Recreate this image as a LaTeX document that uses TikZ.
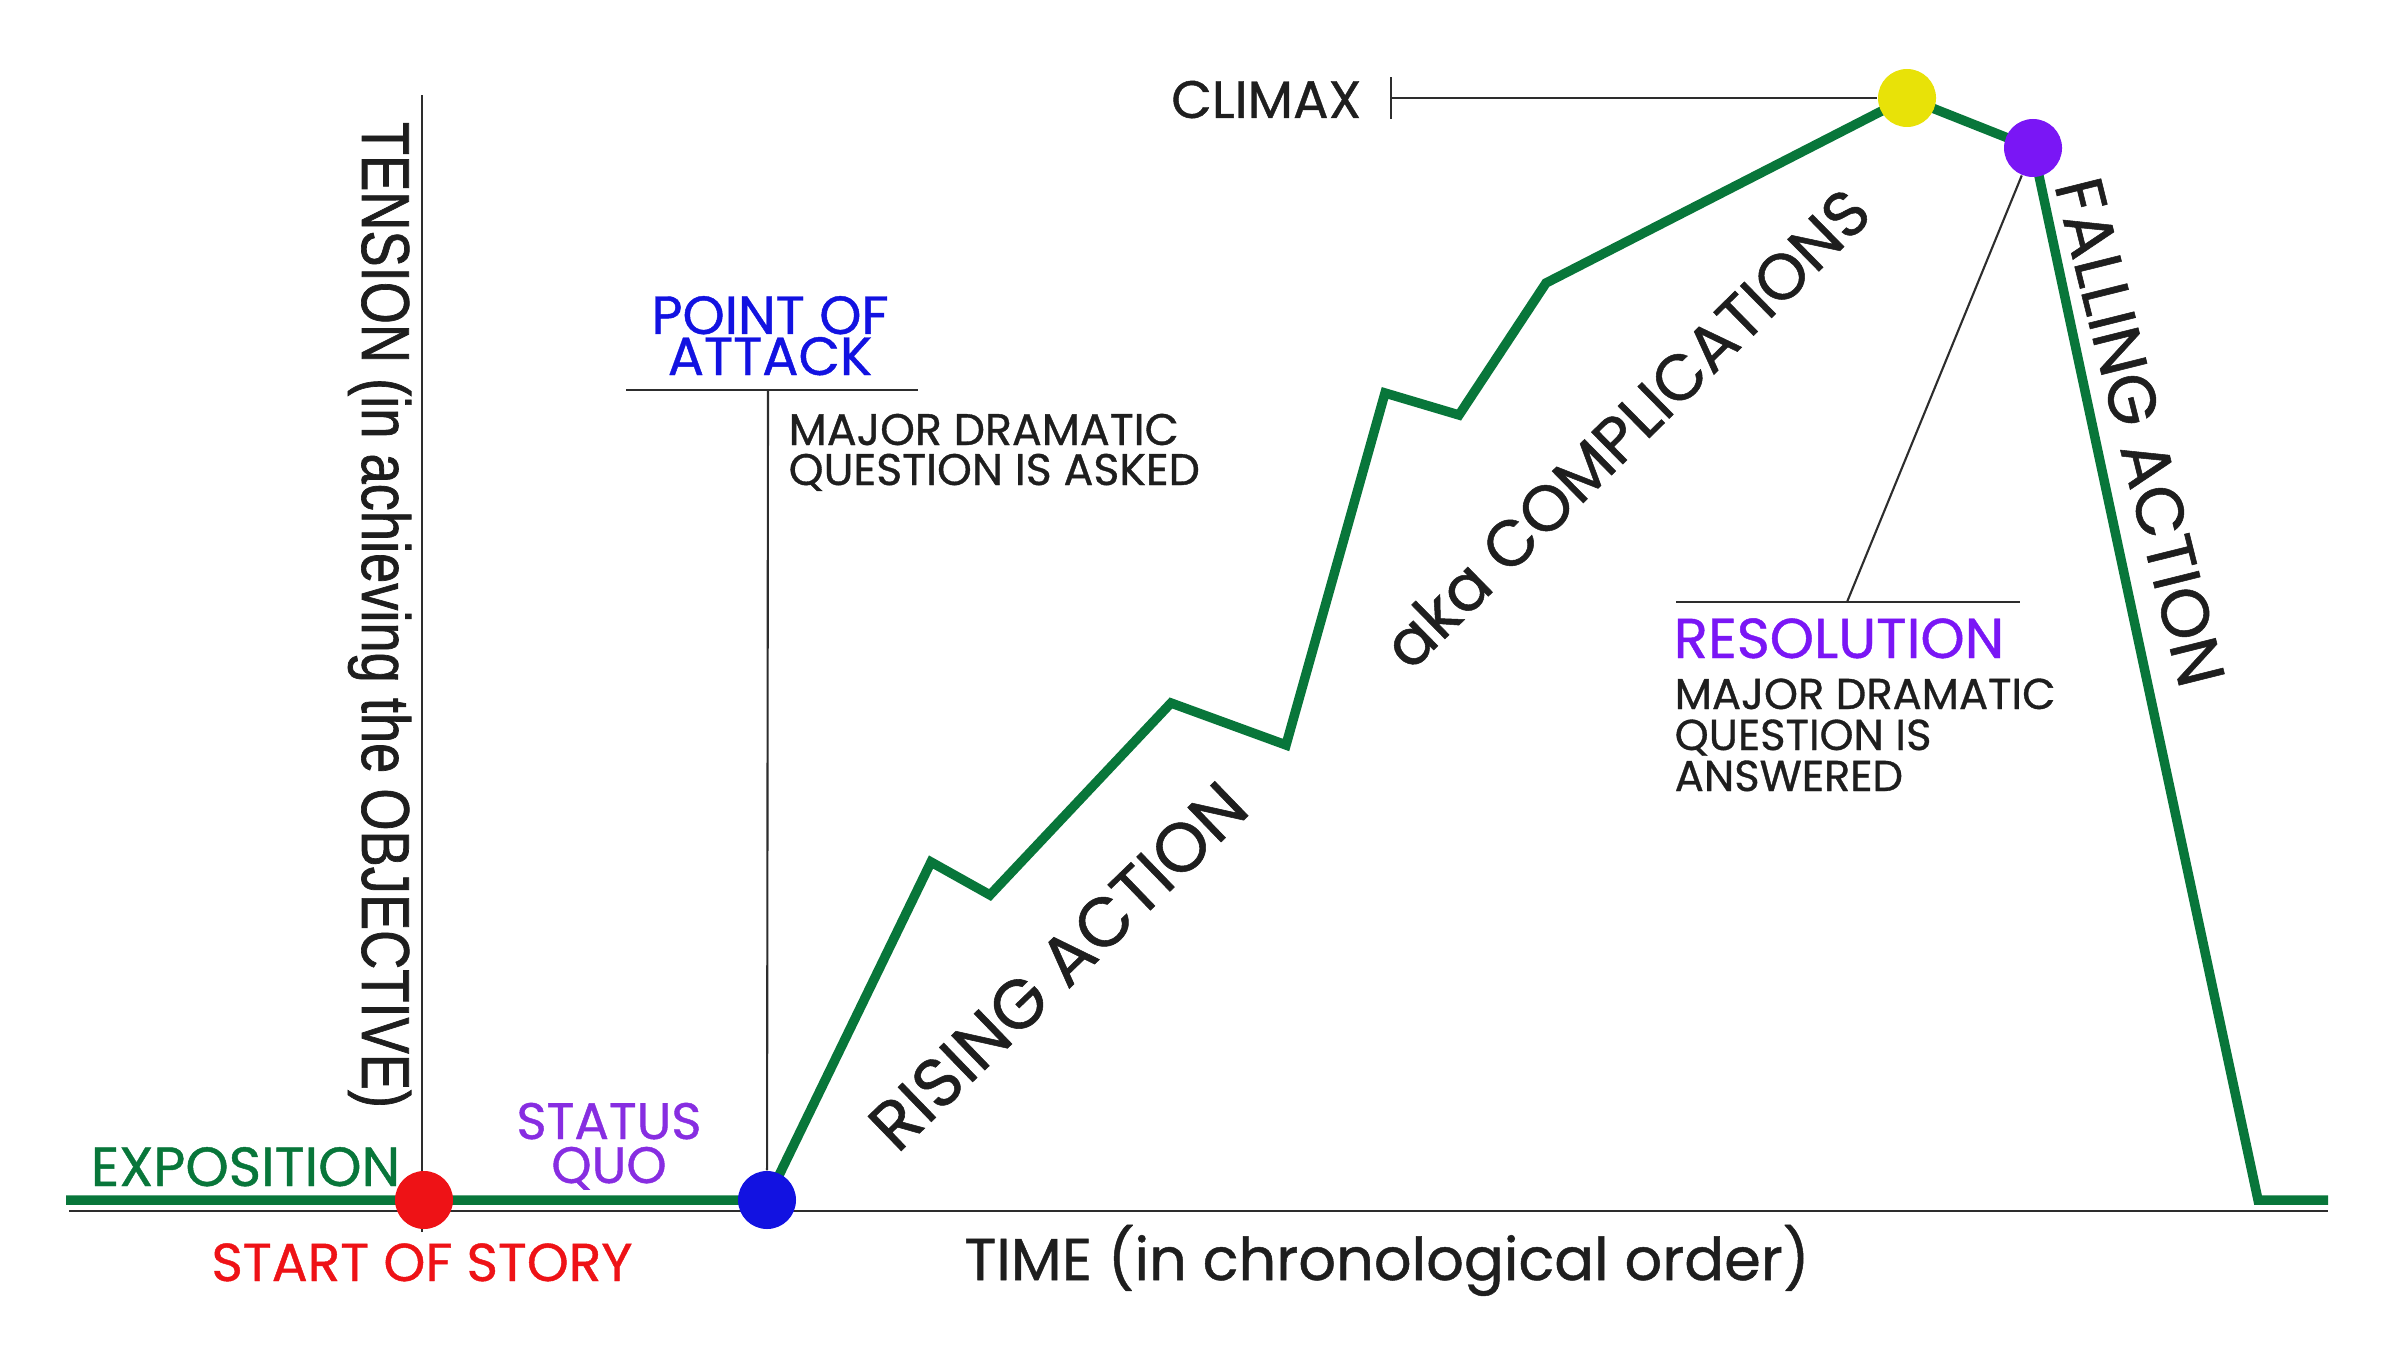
\documentclass[tikz,border=0pt]{standalone}
\usepackage{fontspec}
\setmainfont{Poppins}[FakeBold=0.8]
\newfontfamily\tensionfont[FakeStretch=0.8,FakeBold=1]{Liberation Sans}

\definecolor{storygreen}{RGB}{8,118,58}
\definecolor{axisgray}{RGB}{45,45,45}
\definecolor{textgray}{RGB}{30,30,30}
\definecolor{startred}{RGB}{238,18,22}
\definecolor{attackblue}{RGB}{18,18,225}
\definecolor{quopurple}{RGB}{135,45,225}
\definecolor{climaxyellow}{RGB}{232,226,8}
\definecolor{resolpurple}{RGB}{122,22,245}

\tikzset{
  story/.style={draw=storygreen, line width=2.7pt},
  axis/.style={draw=axisgray, line width=0.7pt},
  leader/.style={draw=axisgray, line width=0.6pt},
  dot/.style={circle, inner sep=0pt, minimum size=0.58cm},
  lbl/.style={inner sep=0pt, text=textgray},
}
\newcommand{\fsz}[1]{\fontsize{#1}{#1}\selectfont}

\begin{document}
\begin{tikzpicture}
  \useasboundingbox (0,0) rectangle (24,13.5);

  % Draw axes
  \draw[axis] (0.69,1.39) -- (23.28,1.39);
  \draw[axis] (4.22,1.18) -- (4.22,12.55);

  % Key points of the story
  \coordinate (startpt) at (4.24,1.5);
  \coordinate (attackpt) at (7.67,1.5);
  \coordinate (climaxpt) at (19.07,12.52);
  \coordinate (resolpt) at (20.33,12.02);

  % Plot the story line
  \draw[story]
  (0.66,1.5) --
  (startpt) --
  (attackpt) --
  (9.31,4.88) --
  (9.90,4.55) --
  (11.71,6.47) --
  (12.86,6.05) --
  (13.85,9.57) --
  (14.59,9.35) --
  (15.46,10.67) --
  (climaxpt) --
  (resolpt) --
  (22.58,1.5) --
  (23.28,1.5);

  % Add dots at the key points
  \node[dot, fill=startred] (start) at (startpt) {};
  \node[dot, fill=attackblue] (attack) at (attackpt) {};
  \node[dot, fill=climaxyellow] (climax) at (climaxpt) {};
  \node[dot, fill=resolpurple] (resol) at (resolpt) {};

  % Leader lines
  \coordinate (attackbar) at (7.68,9.60);
  \coordinate (climaxtick) at (13.91,12.52);
  \coordinate (resolbar) at (18.47,7.48);
  \draw[leader] (attack) -- (attackbar);
  \draw[leader] (6.26,9.60) -- (9.18,9.60);
  \draw[leader] (climaxtick) -- (climax);
  \draw[leader] (13.91,12.31) -- (13.91,12.73);
  \draw[leader] (resol) -- (resolbar);
  \draw[leader] (16.76,7.48) -- (20.20,7.48);

  % Axis labels
  \node[lbl, rotate=-90, anchor=base, font=\tensionfont\fsz{19.3}] (tension) at (3.62,7.35) {TENSION (in achieving the OBJECTIVE)};
  \node[lbl, anchor=base, font=\fsz{16.8}] (time) at (13.87,0.70) {TIME (in chronological order)};

  % Labels along the line
  \node[lbl, anchor=base, text=startred, font=\fsz{15.2}] (startlbl) at (4.22,0.69) {START OF STORY};
  \node[lbl, anchor=base east, text=storygreen, font=\fsz{15.7}] (expo) at (4.01,1.64) {EXPOSITION};
  \node[lbl, anchor=base, text=quopurple, font=\fsz{14.6}] (status) at (6.09,2.11) {STATUS};
  \node[lbl, anchor=base, text=quopurple, font=\fsz{14.6}] (quo) at (6.09,1.67) {QUO};
  \node[lbl, anchor=base, text=attackblue, font=\fsz{15.3}] (point) at (7.70,10.16) {POINT OF};
  \node[lbl, anchor=base, text=attackblue, font=\fsz{15.3}] (attacklbl) at (7.70,9.75) {ATTACK};
  \node[lbl, anchor=base west, font=\fsz{12.6}] (asked1) at (7.88,9.05) {MAJOR DRAMATIC};
  \node[lbl, anchor=base west, font=\fsz{12.6}] (asked2) at (7.88,8.65) {QUESTION IS ASKED};
  \node[lbl, anchor=base east, font=\fsz{15}] (climaxlbl) at (13.62,12.32) {CLIMAX};
  \node[lbl, anchor=base west, text=resolpurple, font=\fsz{16}] (resollbl) at (16.73,6.92) {RESOLUTION};
  \node[lbl, anchor=base west, font=\fsz{12.3}] (answer1) at (16.74,6.41) {MAJOR DRAMATIC};
  \node[lbl, anchor=base west, font=\fsz{12.3}] (answer2) at (16.74,6.00) {QUESTION IS};
  \node[lbl, anchor=base west, font=\fsz{12.3}] (answer3) at (16.74,5.59) {ANSWERED};

  % Slanted labels
  \node[lbl, rotate=44, font=\fsz{19.6}] (rising) at (10.58,3.84) {RISING ACTION};
  \node[lbl, rotate=44.5, font=\fsz{18.3}] (compl) at (16.26,9.22) {aka COMPLICATIONS};
  \node[lbl, rotate=-76, font=\fsz{19.1}] (falling) at (21.40,9.18) {FALLING ACTION};
\end{tikzpicture}
\end{document}
